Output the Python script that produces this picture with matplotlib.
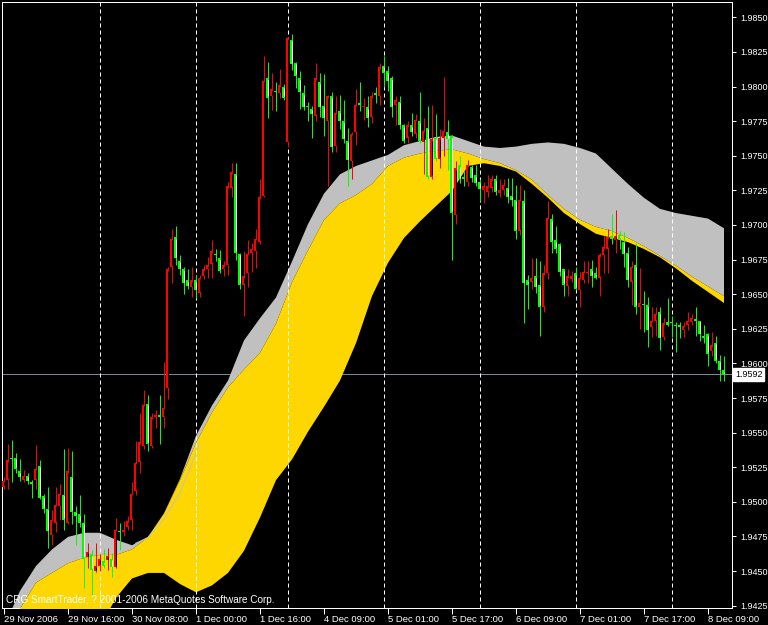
import matplotlib
matplotlib.use("Agg")
import matplotlib.pyplot as plt
from matplotlib.patches import Rectangle
import numpy as np

# ---------------- data ----------------
opens = [1.9511,1.9516,1.9532,1.9532,1.9522,1.9516,1.9519,1.9514,1.9516,1.9526,
         1.9504,1.9495,1.9476,1.9485,1.9497,1.9505,1.9485,1.9518,1.9493,1.9491,
         1.9485,1.9460,1.9462,1.9450,1.9454,1.9457,1.9458,1.9459,1.9453,1.9479,
         1.9478,1.9482,1.9487,1.9508,1.9529,1.9540,1.9571,1.9540,1.9561,1.9563,
         1.9561,1.9582,1.9670,1.9691,1.9674,1.9668,1.9660,1.9655,1.9660,1.9651,
         1.9663,1.9668,1.9672,1.9679,1.9676,1.9668,1.9671,1.9727,1.9737,1.9679,
         1.9657,1.9665,1.9680,1.9681,1.9688,1.9721,1.9806,1.9793,1.9797,1.9795,
         1.9800,1.9760,1.9834,1.9817,1.9806,1.9795,1.9786,1.9784,1.9779,1.9803,
         1.9786,1.9775,1.9793,1.9757,1.9782,1.9775,1.9761,1.9746,1.9767,1.9788,
         1.9785,1.9785,1.9778,1.9795,1.9793,1.9815,1.9811,1.9806,1.9787,1.9789,
         1.9772,1.9763,1.9772,1.9766,1.9775,1.9760,1.9770,1.9735,1.9763,1.9748,
         1.9763,1.9767,1.9764,1.9707,1.9743,1.9735,1.9731,1.9742,1.9736,1.9731,
         1.9725,1.9724,1.9727,1.9733,1.9723,1.9725,1.9727,1.9721,1.9718,1.9696,
         1.9717,1.9660,1.9659,1.9663,1.9657,1.9641,1.9665,1.9704,1.9689,1.9686,
         1.9668,1.9656,1.9661,1.9665,1.9653,1.9660,1.9665,1.9668,1.9665,1.9662,
         1.9678,1.9683,1.9692,1.9689,1.9693,1.9688,1.9680,1.9659,1.9671,1.9641,
         1.9643,1.9642,1.9626,1.9631,1.9637,1.9619,1.9630,1.9630,1.9628,1.9628,
         1.9624,1.9628,1.9630,1.9632,1.9631,1.9620,1.9621,1.9609,1.9615,1.9602,
         1.9595]
highs = [1.9518,1.9542,1.9545,1.9535,1.9531,1.9523,1.9521,1.9516,1.9541,1.9530,
         1.9506,1.9511,1.9494,1.9511,1.9513,1.9538,1.9539,1.9537,1.9497,1.9505,
         1.9491,1.9470,1.9465,1.9470,1.9462,1.9466,1.9467,1.9463,1.9488,1.9485,
         1.9486,1.9490,1.9514,1.9544,1.9564,1.9581,1.9577,1.9564,1.9566,1.9577,
         1.9601,1.9670,1.9697,1.9699,1.9678,1.9670,1.9668,1.9670,1.9664,1.9664,
         1.9671,1.9677,1.9689,1.9683,1.9682,1.9674,1.9731,1.9745,1.9745,1.9680,
         1.9681,1.9689,1.9687,1.9697,1.9733,1.9822,1.9818,1.9810,1.9803,1.9813,
         1.9802,1.9836,1.9838,1.9818,1.9811,1.9801,1.9789,1.9786,1.9817,1.9810,
         1.9809,1.9794,1.9796,1.9793,1.9794,1.9790,1.9770,1.9767,1.9798,1.9803,
         1.9792,1.9793,1.9796,1.9800,1.9817,1.9822,1.9815,1.9808,1.9793,1.9793,
         1.9773,1.9775,1.9781,1.9780,1.9796,1.9777,1.9786,1.9787,1.9780,1.9769,
         1.9807,1.9776,1.9765,1.9746,1.9750,1.9739,1.9747,1.9743,1.9743,1.9733,
         1.9731,1.9736,1.9736,1.9736,1.9733,1.9733,1.9734,1.9734,1.9729,1.9729,
         1.9725,1.9664,1.9676,1.9676,1.9674,1.9671,1.9717,1.9708,1.9699,1.9687,
         1.9668,1.9668,1.9667,1.9670,1.9666,1.9674,1.9674,1.9675,1.9670,1.9680,
         1.9692,1.9697,1.9708,1.9711,1.9696,1.9695,1.9684,1.9674,1.9687,1.9669,
         1.9652,1.9648,1.9641,1.9641,1.9641,1.9633,1.9647,1.9634,1.9630,1.9630,
         1.9630,1.9637,1.9636,1.9641,1.9631,1.9628,1.9622,1.9623,1.9620,1.9606,
         1.9605]
lows = [1.9509,1.9509,1.9514,1.9521,1.9515,1.9514,1.9513,1.9503,1.9509,1.9502,
        1.9492,1.9467,1.9469,1.9478,1.9487,1.9480,1.9484,1.9484,1.9469,1.9482,
        1.9438,1.9452,1.9433,1.9449,1.9450,1.9452,1.9451,1.9446,1.9452,1.9465,
        1.9475,1.9480,1.9480,1.9505,1.9521,1.9538,1.9537,1.9539,1.9553,1.9542,
        1.9553,1.9574,1.9658,1.9671,1.9664,1.9650,1.9654,1.9648,1.9647,1.9648,
        1.9661,1.9662,1.9662,1.9674,1.9665,1.9663,1.9664,1.9720,1.9675,1.9654,
        1.9634,1.9655,1.9666,1.9669,1.9686,1.9720,1.9777,1.9783,1.9782,1.9792,
        1.9790,1.9756,1.9812,1.9799,1.9784,1.9783,1.9775,1.9763,1.9775,1.9778,
        1.9764,1.9728,1.9753,1.9753,1.9769,1.9759,1.9728,1.9733,1.9758,1.9782,
        1.9776,1.9771,1.9774,1.9788,1.9787,1.9800,1.9797,1.9778,1.9772,1.9769,
        1.9759,1.9759,1.9764,1.9763,1.9759,1.9737,1.9733,1.9733,1.9746,1.9741,
        1.9750,1.9740,1.9675,1.9701,1.9730,1.9728,1.9728,1.9731,1.9728,1.9717,
        1.9716,1.9720,1.9724,1.9722,1.9720,1.9722,1.9716,1.9714,1.9690,1.9693,
        1.9629,1.9639,1.9654,1.9651,1.9620,1.9637,1.9661,1.9680,1.9680,1.9663,
        1.9649,1.9649,1.9659,1.9653,1.9641,1.9658,1.9658,1.9655,1.9661,1.9649,
        1.9665,1.9665,1.9686,1.9680,1.9683,1.9670,1.9655,1.9642,1.9636,1.9625,
        1.9623,1.9612,1.9619,1.9620,1.9610,1.9617,1.9627,1.9619,1.9608,1.9618,
        1.9619,1.9624,1.9628,1.9620,1.9616,1.9615,1.9598,1.9605,1.9600,1.9587,
        1.9587]
closes = [1.9515,1.9530,1.9531,1.9524,1.9518,1.9519,1.9515,1.9513,1.9524,1.9503,
          1.9495,1.9479,1.9487,1.9498,1.9506,1.9487,1.9522,1.9493,1.9490,1.9485,
          1.9459,1.9464,1.9451,1.9454,1.9459,1.9454,1.9461,1.9453,1.9480,1.9478,
          1.9480,1.9486,1.9506,1.9528,1.9543,1.9570,1.9542,1.9561,1.9563,1.9561,
          1.9568,1.9668,1.9690,1.9676,1.9668,1.9658,1.9656,1.9660,1.9653,1.9662,
          1.9668,1.9671,1.9681,1.9678,1.9667,1.9671,1.9728,1.9738,1.9680,1.9657,
          1.9663,1.9679,1.9683,1.9690,1.9720,1.9804,1.9792,1.9798,1.9796,1.9801,
          1.9792,1.9835,1.9816,1.9808,1.9796,1.9785,1.9785,1.9780,1.9806,1.9785,
          1.9777,1.9793,1.9756,1.9781,1.9775,1.9762,1.9747,1.9766,1.9787,1.9787,
          1.9786,1.9777,1.9793,1.9794,1.9814,1.9810,1.9804,1.9785,1.9790,1.9772,
          1.9761,1.9772,1.9767,1.9776,1.9761,1.9768,1.9735,1.9762,1.9748,1.9763,
          1.9768,1.9762,1.9709,1.9741,1.9733,1.9733,1.9743,1.9734,1.9730,1.9726,
          1.9728,1.9728,1.9733,1.9724,1.9725,1.9729,1.9720,1.9718,1.9696,1.9718,
          1.9658,1.9657,1.9662,1.9655,1.9641,1.9665,1.9705,1.9688,1.9683,1.9666,
          1.9657,1.9663,1.9663,1.9654,1.9662,1.9666,1.9666,1.9663,1.9662,1.9678,
          1.9684,1.9691,1.9690,1.9692,1.9690,1.9679,1.9660,1.9670,1.9641,1.9644,
          1.9642,1.9624,1.9631,1.9636,1.9618,1.9629,1.9628,1.9629,1.9627,1.9626,
          1.9627,1.9631,1.9633,1.9631,1.9621,1.9618,1.9607,1.9613,1.9602,1.9595,
          1.9592]

# indicator bands, sampled every 4 bars (bar 0, 4, ..., 180)
band_bars = list(range(0, 181, 4))
gray_top = [1.9410,1.9436,1.9454,1.9466,1.9475,1.9478,1.9478,1.9473,1.9469,1.9475,
            1.9492,1.9517,1.9548,1.9570,1.9588,1.9617,1.9633,1.9648,1.9674,1.9701,
            1.9723,1.9737,1.9743,1.9747,1.9751,1.9758,1.9761,1.9764,1.9765,1.9761,
            1.9757,1.9756,1.9757,1.9759,1.9760,1.9759,1.9756,1.9752,1.9741,1.9730,
            1.9720,1.9712,1.9709,1.9707,1.9705,1.9698]
yellow_top = [1.9410,1.9423,1.9442,1.9449,1.9456,1.9460,1.9462,1.9462,1.9466,1.9475,
              1.9492,1.9516,1.9543,1.9565,1.9583,1.9596,1.9608,1.9629,1.9659,1.9682,
              1.9704,1.9716,1.9722,1.9730,1.9743,1.9749,1.9752,1.9754,1.9755,1.9752,
              1.9748,1.9745,1.9740,1.9733,1.9722,1.9712,1.9704,1.9699,1.9696,1.9691,
              1.9685,1.9678,1.9671,1.9663,1.9656,1.9649]
yellow_bottom = [1.9410,1.9410,1.9410,1.9410,1.9410,1.9410,1.9410,1.9431,1.9445,1.9449,
                 1.9449,1.9441,1.9435,1.9440,1.9449,1.9465,1.9489,1.9516,1.9531,1.9551,
                 1.9569,1.9588,1.9615,1.9649,1.9673,1.9691,1.9703,1.9714,1.9725,1.9743,
                 1.9745,1.9743,1.9739,1.9730,1.9720,1.9709,1.9701,1.9694,1.9691,1.9688,
                 1.9683,1.9677,1.9669,1.9660,1.9652,1.9644]
# thin grey line visible inside the yellow band
inner_line_bars = [33, 36, 40, 44, 48, 49]
inner_line = [1.9470, 1.9474, 1.9487, 1.9506, 1.9534, 1.9542]

tick_bars = [0, 16, 32, 48, 64, 80, 96, 112, 128, 144, 160, 176]
tick_labels = ["29 Nov 2006", "29 Nov 16:00", "30 Nov 08:00", "1 Dec 00:00",
               "1 Dec 16:00", "4 Dec 09:00", "5 Dec 01:00", "5 Dec 17:00",
               "6 Dec 09:00", "7 Dec 01:00", "7 Dec 17:00", "8 Dec 09:00"]
day_bars = [24, 48, 71, 95, 119, 143, 167]
price_levels = [1.9425 + 0.0025 * k for k in range(18)]
last_price = 1.9592
copyright_text = "CRG SmartTrader, ? 2001-2006 MetaQuotes Software Corp."

# ---------------- figure ----------------
W, H = 768, 625
fig = plt.figure(figsize=(W / 100, H / 100), dpi=100, facecolor="black")
ax = fig.add_axes([2 / W, (H - 608) / H, 730 / W, 606 / H], facecolor="black")
font = "Liberation Sans"
PX = 0.72  # one pixel in points

# bar i centred on a pixel centre (4 px per bar)
ax.set_xlim(-0.375, 182.125)
ax.set_ylim(1.94233, 1.98611)

# current price line (under bands)
ax.axhline(last_price, color="#778899", lw=PX, zorder=1)

# bands
ax.fill_between(band_bars, yellow_top, gray_top, color="#C0C0C0", lw=0, zorder=2)
ax.fill_between(band_bars, yellow_bottom, yellow_top, color="#FFD700", lw=0, zorder=3)
ax.plot(inner_line_bars, inner_line, color="#C0C0C0", lw=PX, zorder=3.5)

# day separators
for b in day_bars:
    ax.axvline(b, color="white", lw=PX, ls=(0, (4, 3)), zorder=4)

# candles: red = rising bar (black body), lime = falling bar (white body)
for i in range(len(opens)):
    o, h, l, c = opens[i], highs[i], lows[i], closes[i]
    up = c >= o
    col = "#FF0000" if up else "#00FF00"
    fill = "black" if up else "white"
    ax.vlines(i, l, h, color=col, lw=PX, zorder=5)
    lo, hi = min(o, c), max(o, c)
    if hi - lo < 0.00006:
        ax.hlines((o + c) / 2, i - 0.375, i + 0.375, color=col, lw=1.5 * PX, zorder=6)
    else:
        ax.add_patch(Rectangle((i - 0.375, lo), 0.75, hi - lo, facecolor=col,
                               edgecolor="none", zorder=6))
        if hi - lo > 0.00022:
            ax.vlines(i, lo + 0.0001, hi - 0.0001, color=fill, lw=PX, zorder=7)

# axes styling
for s in ax.spines.values():
    s.set_color("white")
    s.set_linewidth(PX)
ax.yaxis.tick_right()
ax.set_yticks(price_levels)
ax.set_yticklabels([f"{p:.4f}" for p in price_levels])
ax.tick_params(axis="y", colors="white", length=3, width=PX, pad=3,
               labelsize=6.5, direction="out")
ax.set_xticks(tick_bars)
ax.set_xticklabels(tick_labels)
ax.tick_params(axis="x", colors="white", length=4, width=PX, pad=1,
               labelsize=6.8, direction="out")
for lab in ax.get_xticklabels() + ax.get_yticklabels():
    lab.set_fontfamily(font)
for lab in ax.get_xticklabels():
    lab.set_ha("left")

# price label box
ax.text(1.004, last_price, f"{last_price:.4f}", transform=ax.get_yaxis_transform(),
        ha="left", va="center", fontsize=6.5, family=font, color="black",
        bbox=dict(boxstyle="square,pad=0.2", facecolor="white", edgecolor="white"),
        zorder=10, clip_on=False)

# copyright
ax.text(0.0055, 0.009, copyright_text, transform=ax.transAxes, ha="left",
        va="baseline", fontsize=7.2, family=font, color="white", zorder=10)

fig.savefig("out.png", dpi=100, facecolor="black")
